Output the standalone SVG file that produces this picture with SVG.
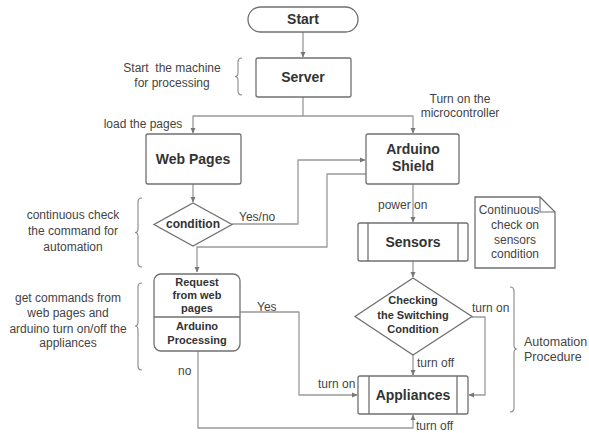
<svg xmlns="http://www.w3.org/2000/svg" width="589" height="433" viewBox="0 0 589 433">
<style>
.box{fill:#fff;stroke:#707070;stroke-width:1.3}
.ln{fill:none;stroke:#999;stroke-width:1.3;stroke-linejoin:round}
.br{fill:none;stroke:#888;stroke-width:1.1}
.t{font-family:"Liberation Sans",Arial,sans-serif;font-weight:bold;fill:#333;text-anchor:middle}
.l{font-family:"Liberation Sans",Arial,sans-serif;font-size:12px;fill:#444}
.c{text-anchor:middle}
</style>
<defs>
<marker id="ah" markerWidth="6" markerHeight="6" refX="5" refY="3" orient="auto" markerUnits="userSpaceOnUse">
<path d="M0,0.5 L5.5,3 L0,5.5 Z" fill="#777"/>
</marker>
</defs>
<rect width="589" height="433" fill="#fff"/>
<g id="connectors" class="ln" marker-end="url(#ah)">
<path d="M303,32 V57"/>
<path d="M303,97 V116 H193 V133"/>
<path d="M303,116 H413 V133"/>
<path d="M193,184 V202"/>
<path d="M232,224 H298 V160 H365"/>
<path d="M366,174 H327 V247 H197 V272"/>
<path d="M413,184 V222"/>
<path d="M413,261 V277"/>
<path d="M413,355 V375"/>
<path d="M472,317 H485 V395 H469"/>
<path d="M240,312 H299 V395 H357"/>
<path d="M198,351 V428 H413 V415"/>
</g>
<g id="start">
<rect class="box" x="248" y="7" width="110" height="25" rx="12.5"/>
<text class="t" x="303" y="24" font-size="14">Start</text>
</g>
<g id="server">
<rect class="box" x="256" y="58" width="95" height="39" rx="2"/>
<text class="t" x="303" y="82" font-size="14">Server</text>
</g>
<g id="webpages">
<rect class="box" x="146" y="134" width="95" height="50" rx="2"/>
<text class="t" x="193" y="164" font-size="14">Web Pages</text>
</g>
<g id="arduino">
<rect class="box" x="366" y="134" width="93" height="50" rx="2"/>
<text class="t" x="413" y="154" font-size="14">Arduino</text>
<text class="t" x="413" y="171" font-size="14">Shield</text>
</g>
<g id="condition">
<path class="box" d="M193,203 L232,224.5 L193,246 L154,224.5 Z"/>
<text class="t" x="193" y="228" font-size="12">condition</text>
</g>
<g id="request">
<rect class="box" x="154" y="274" width="86" height="77" rx="7"/>
<line x1="154" y1="317" x2="240" y2="317" stroke="#707070" stroke-width="1.3"/>
<text class="t" x="197" y="286" font-size="11">Request</text>
<text class="t" x="197" y="299" font-size="11">from web</text>
<text class="t" x="197" y="312" font-size="11">pages</text>
<text class="t" x="197" y="330" font-size="11">Arduino</text>
<text class="t" x="197" y="344" font-size="11">Processing</text>
</g>
<g id="sensors">
<rect class="box" x="358" y="223" width="110" height="38" rx="2"/>
<line x1="368" y1="223" x2="368" y2="261" stroke="#707070" stroke-width="1.3"/>
<line x1="458" y1="223" x2="458" y2="261" stroke="#707070" stroke-width="1.3"/>
<text class="t" x="413" y="247" font-size="14">Sensors</text>
</g>
<g id="checking">
<path class="box" d="M413,278 L472,316.5 L413,355 L355,316.5 Z"/>
<text class="t" x="413" y="304" font-size="11">Checking</text>
<text class="t" x="413" y="319" font-size="11">the Switching</text>
<text class="t" x="413" y="333" font-size="11">Condition</text>
</g>
<g id="appliances">
<rect class="box" x="358" y="376" width="110" height="38" rx="2"/>
<line x1="369" y1="376" x2="369" y2="414" stroke="#707070" stroke-width="1.3"/>
<line x1="457" y1="376" x2="457" y2="414" stroke="#707070" stroke-width="1.3"/>
<text class="t" x="413" y="400" font-size="14">Appliances</text>
</g>
<g id="note">
<path class="box" d="M475,197 H540 L555,212 V268 H475 Z"/>
<path d="M540,197 V212 H555" fill="none" stroke="#707070" stroke-width="1.1"/>
<text class="l c" x="509" y="214">Continuous</text>
<text class="l c" x="515" y="229">check on</text>
<text class="l c" x="515" y="244">sensors</text>
<text class="l c" x="515" y="258">condition</text>
</g>
<g id="braces" class="br">
<path d="M242,58 Q238,58 238,62 L238,73 Q238,76.5 235,76.5 Q238,76.5 238,80 L238,91 Q238,95 242,95"/>
<path d="M142,198 Q138,198 138,202 L138,229 Q138,232.5 135,232.5 Q138,232.5 138,236 L138,263 Q138,267 142,267"/>
<path d="M142,283 Q138,283 138,287 L138,322 Q138,326 135,326 Q138,326 138,330 L138,366 Q138,370 142,370"/>
<path d="M510,287 Q514,287 514,291 L514,345 Q514,349 517,349 Q514,349 514,353 L514,408 Q514,412 510,412"/>
</g>
<g id="labels" class="l">
<text class="c" x="172" y="72" style="white-space:pre">Start  the machine</text>
<text class="c" x="172" y="87">for processing</text>
<text class="c" x="143" y="128">load the pages</text>
<text class="c" x="460" y="103">Turn on the</text>
<text class="c" x="460" y="117">microcontroller</text>
<text x="239" y="221">Yes/no</text>
<text class="c" x="73" y="219">continuous check</text>
<text class="c" x="73" y="235">the command for</text>
<text class="c" x="73" y="251">automation</text>
<text class="c" x="68" y="302">get commands from</text>
<text class="c" x="68" y="317">web pages and</text>
<text class="c" x="68" y="333">arduino turn on/off the</text>
<text class="c" x="68" y="347">appliances</text>
<text x="378" y="209">power on</text>
<text x="257" y="311">Yes</text>
<text x="178" y="375">no</text>
<text x="472" y="312">turn on</text>
<text x="417" y="367">turn off</text>
<text x="318" y="388">turn on</text>
<text x="416" y="430">turn off</text>
<text x="524" y="346" font-size="12.5">Automation</text>
<text x="524" y="361" font-size="12.5">Procedure</text>
</g>
</svg>
